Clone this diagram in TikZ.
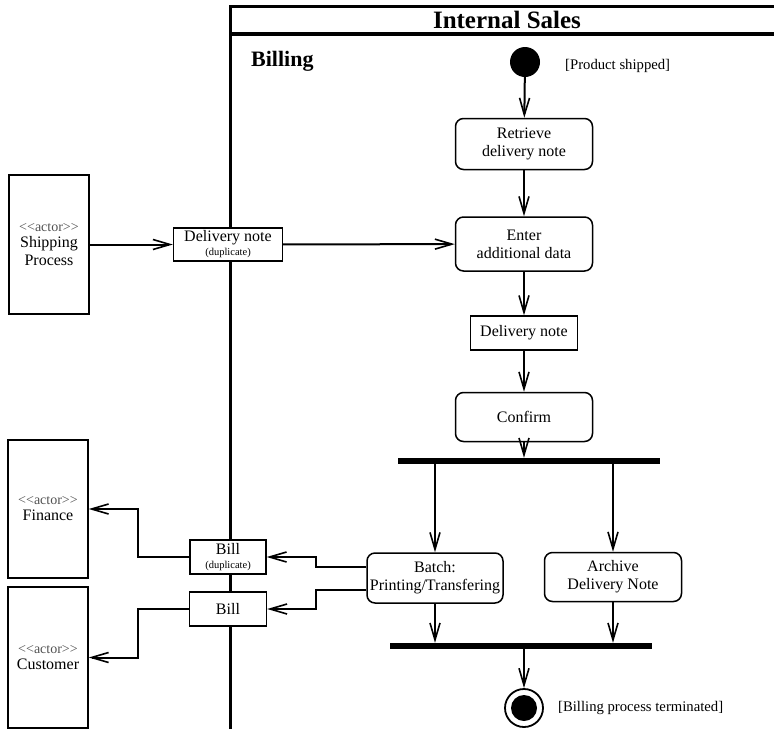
\documentclass[tikz,border=0pt]{standalone}
\usepackage{fontspec}
\setmainfont{Liberation Serif}
\usetikzlibrary{arrows.meta,calc}
\newcommand\actorlabel{{\color{black!68}\fontsize{14}{15}\selectfont\hbox{<}\hbox{<}actor\hbox{>}\hbox{>}}}
\newcommand\dupl{{\fontsize{10.5}{12}\selectfont (duplicate)}}
\begin{document}
\begin{tikzpicture}[x=1pt,y=-1pt,
  txt/.style={font=\fontsize{16}{18}\selectfont, align=center},
  act/.style={txt, draw, fill=white, rounded corners=8pt, line width=1.5pt, minimum width=137pt, minimum height=51pt, inner sep=1pt},
  objbox/.style={txt, draw, fill=white, line width=1.4pt, inner sep=1pt},
  actorbox/.style={txt, draw, line width=1.5pt, minimum width=80pt, inner sep=1pt},
  guard/.style={font=\fontsize{14.7}{16}\selectfont, anchor=west, inner sep=0pt},
  flow/.style={-{Straight Barb[length=17pt,width=10pt,line width=1.6pt]}, line width=2pt},
  barbox/.style={fill, minimum width=262pt, minimum height=6pt, inner sep=0pt}
]
\useasboundingbox (0,0) rectangle (774,729);
% frame
\draw[line width=3pt] (230,729) -- (230,6) -- (774,6);
\draw[line width=3.2pt] (230,34) -- (774,34);
\node[font=\bfseries\fontsize{25}{28}\selectfont, inner sep=0pt] (title) at (507,20) {Internal Sales};
\node[font=\bfseries\fontsize{22}{24}\selectfont, anchor=west, inner sep=0pt] (lane) at (251,61) {Billing};
% flow nodes
\node[circle, fill, minimum size=30pt, inner sep=0pt] (start) at (525,62) {};
\node[guard] (g1) at (565,66) {[Product shipped]};
\node[act] (retrieve) at (524,144) {Retrieve\\delivery note};
\node[act, minimum height=54pt] (enter) at (524,244) {Enter\\additional data};
\node[objbox, minimum width=107pt, minimum height=34pt] (note) at (524,333) {Delivery note};
\node[act, minimum height=49pt] (confirm) at (524,417) {Confirm};
\node[barbox] (fork) at (529,461) {};
\node[act, minimum width=136pt, minimum height=50pt] (batch) at (435,578) {Batch:\\Printing/Transfering};
\node[act, minimum height=49pt] (archive) at (613,577) {Archive\\Delivery Note};
\node[barbox] (join) at (521,646) {};
\node[circle, draw, line width=1.8pt, minimum size=38pt, inner sep=0pt] (final) at (524,708) {};
\node[circle, fill, minimum size=26pt, inner sep=0pt] (finalin) at (final.center) {};
\node[guard] (g2) at (558,708) {[Billing process terminated]};
% objects on lane border
\node[objbox, minimum width=109pt, minimum height=33pt] (dupnote) at (228,244.5) {Delivery note\\[-4pt]\dupl};
\node[objbox, minimum width=76pt, minimum height=34pt] (billdup) at (228,557) {Bill\\[-4pt]\dupl};
\node[objbox, minimum width=77pt, minimum height=34pt] (bill) at (228,609) {Bill};
% actors
\node[actorbox, minimum height=139pt] (ship) at (49,244.5) {\actorlabel\\[-2pt]Shipping\\Process};
\node[actorbox, minimum height=138pt] (finance) at (48,509) {\actorlabel\\[-2pt]Finance};
\node[actorbox, minimum height=141pt] (customer) at (48,657.5) {\actorlabel\\[-2pt]Customer};
% connectors
\draw[flow] (start) -- (retrieve);
\draw[flow] (retrieve) -- (enter);
\draw[flow] (enter) -- (note);
\draw[flow] (note) -- (confirm);
\draw[flow] (confirm.south) -- (confirm.south |- fork.north);
\draw[flow] (batch.north |- fork.south) -- (batch.north);
\draw[flow] (archive.north |- fork.south) -- (archive.north);
\draw[flow] (batch.south) -- (batch.south |- join.north);
\draw[flow] (archive.south) -- (archive.south |- join.north);
\draw[flow] (final.north |- join.south) -- (final.north);
\draw[flow] (ship) -- (dupnote);
\draw[flow] (dupnote) -- (enter);
\draw[flow] ([yshift=11pt]batch.west) -- ++(-50,0) |- (billdup.east);
\draw[flow] ([yshift=-12pt]batch.west) -- ++(-50,0) |- (bill.east);
\draw[flow] (billdup.west) -- ++(-51,0) |- (finance.east);
\draw[flow] (bill.west) -- ++(-51,0) |- (customer.east);
\end{tikzpicture}
\end{document}
